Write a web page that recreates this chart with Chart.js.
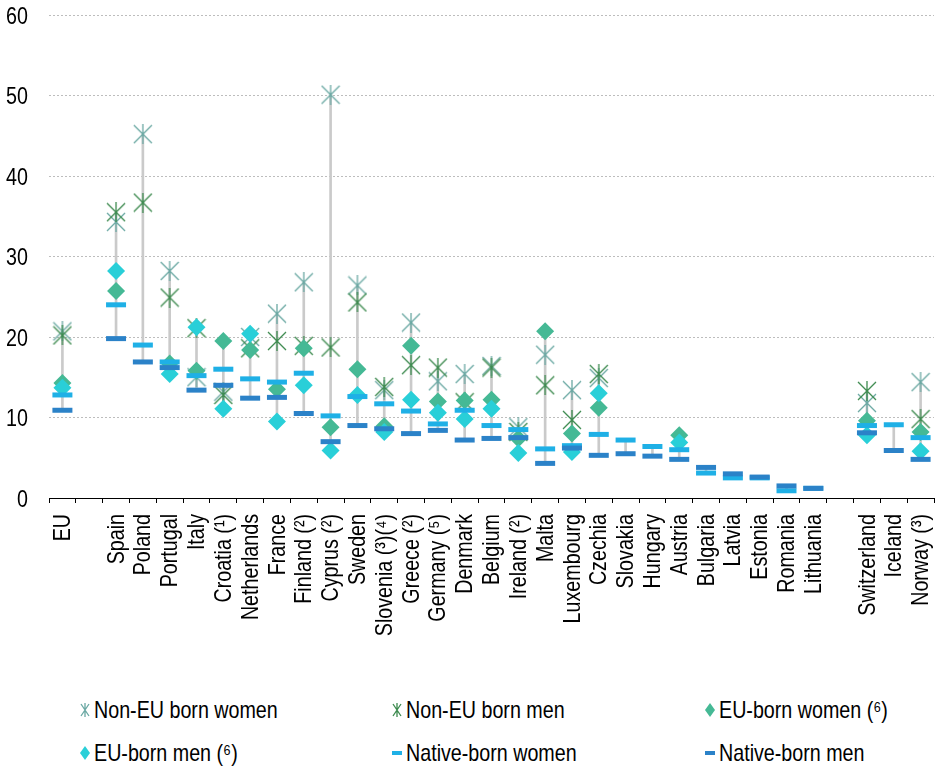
<!DOCTYPE html>
<html>
<head>
<meta charset="utf-8">
<script src="https://cdn.jsdelivr.net/npm/chart.js@4.4.1/dist/chart.umd.min.js"></script>
<style>
  body { margin: 0; background: #fff; }
  #wrap { position: relative; width: 949px; height: 768px; font-family: "Liberation Sans", Arial, sans-serif; }
  #grafica { position: absolute; left: 0; top: 0; }
  .leyenda { position: absolute; display: flex; align-items: center; font-size: 24px; line-height: 28px; color: #000; white-space: nowrap; }
  .leyenda canvas { margin-right: 2px; }
  .leyenda span { display: inline-block; transform: scaleX(0.82); transform-origin: left center; }
</style>
</head>
<body>
<div id="wrap">
  <canvas id="grafica" width="949" height="640"></canvas>
</div>
<script>
// paises (huecos vacios separan EU y los no miembros)
const paises = ['EU', '', 'Spain', 'Poland', 'Portugal', 'Italy', 'Croatia (¹)', 'Netherlands', 'France',
  'Finland (²)', 'Cyprus (²)', 'Sweden', 'Slovenia (³)(⁴)', 'Greece (²)', 'Germany (⁵)', 'Denmark', 'Belgium',
  'Ireland (²)', 'Malta', 'Luxembourg', 'Czechia', 'Slovakia', 'Hungary', 'Austria', 'Bulgaria', 'Latvia',
  'Estonia', 'Romania', 'Lithuania', '', 'Switzerland', 'Iceland', 'Norway (³)'];

const noUeMujeres = [20.7, null, 34.3, 45.2, 28.2, 15.0, 13.2, 20.0, 22.9, 26.8, 50.1, 26.4, 13.4, 21.8, 14.5, 15.4, 16.4,
  8.8, 17.8, 13.4, 14.9, null, null, null, null, null, null, null, null, null, 11.8, null, 14.4];
const noUeHombres = [20.2, null, 35.5, 36.7, 24.9, 21.1, 12.8, 18.6, 19.5, 18.9, 18.7, 24.3, 13.8, 16.5, 16.2, 11.9, 16.2,
  8.2, 14.0, 9.7, 15.4, null, null, null, null, null, null, null, null, null, 13.3, null, 9.8];
const ueMujeres = [14.3, null, 25.7, null, 16.7, 15.8, 19.5, 18.4, 13.5, 18.6, 8.8, 16.0, 8.9, 18.9, 12.0, 12.1, 12.2,
  7.4, 20.7, 8.0, 11.2, null, null, 7.8, null, null, null, null, null, null, 9.6, null, 8.2];
const ueHombres = [13.7, null, 28.2, null, 15.4, 21.2, 11.1, 20.4, 9.5, 14.0, 5.9, 12.8, 8.2, 12.2, 10.6, 9.8, 11.1,
  5.6, null, 5.7, 13.0, null, null, 6.9, null, null, null, null, null, null, 7.8, null, 5.8];
const nativasMujeres = [12.8, null, 24.0, 19.0, 16.9, 15.2, 16.0, 14.8, 14.4, 15.5, 10.2, 12.6, 11.7, 10.8, 9.2, 10.9, 9.0,
  8.5, 6.1, 6.5, 7.9, 7.2, 6.4, 6.0, 3.1, 2.5, 2.5, 0.9, 1.2, null, 9.0, 9.1, 7.5];
const nativosHombres = [10.9, null, 19.8, 16.9, 16.2, 13.4, 14.0, 12.4, 12.5, 10.5, 7.0, 9.0, 8.6, 8.0, 8.4, 7.2, 7.4,
  7.5, 4.3, 6.2, 5.3, 5.5, 5.2, 4.8, 3.8, 3.0, 2.6, 1.5, 1.2, null, 8.1, 5.9, 4.8];

const nombres = ['Non-EU born women', 'Non-EU born men', 'EU-born women (⁶)', 'EU-born men (⁶)', 'Native-born women', 'Native-born men'];
const colores = ['#6aa8a3', '#3c8a4e', '#45b995', '#29cfd8', '#1fb0e6', '#2b82c8'];
const series = [noUeMujeres, noUeHombres, ueMujeres, ueHombres, nativasMujeres, nativosHombres];

// linea gris de min a max en cada pais
const rangos = paises.map((p, i) => {
  const vals = series.map(s => s[i]).filter(v => v !== null);
  if (vals.length < 2) return null;
  return [Math.min(...vals), Math.max(...vals)];
});

// asterisco tipo excel: X con linea vertical
function asterisco(color, w, h) {
  const c = document.createElement('canvas');
  c.width = w; c.height = h;
  const ctx = c.getContext('2d');
  ctx.strokeStyle = color;
  ctx.lineWidth = 1.3;
  ctx.beginPath();
  ctx.moveTo(1, 1); ctx.lineTo(w - 1, h - 1);
  ctx.moveTo(w - 1, 1); ctx.lineTo(1, h - 1);
  ctx.moveTo(w / 2, 0); ctx.lineTo(w / 2, h);
  ctx.stroke();
  return c;
}

const puntos = (i, extra) => Object.assign({
  type: 'line',
  label: nombres[i],
  data: series[i],
  showLine: false,
  pointBackgroundColor: colores[i],
  pointBorderColor: colores[i],
  order: 6 - i
}, extra);

// textos de los ejes en letra estrecha (no hay Arial Narrow, se comprime la Liberation Sans)
const ESTRECHO = 0.82;
const etiquetasEjes = {
  id: 'etiquetasEjes',
  afterDraw(chart) {
    const ctx = chart.ctx;
    const x = chart.scales.x, y = chart.scales.y;
    ctx.save();
    ctx.fillStyle = '#000';
    ctx.font = '24px "Liberation Sans", Arial, sans-serif';
    ctx.textAlign = 'right';
    ctx.textBaseline = 'middle';
    y.ticks.forEach((t, i) => {
      ctx.save();
      ctx.translate(28, y.getPixelForTick(i) + 2);
      ctx.scale(ESTRECHO, 1);
      ctx.fillText(t.label, 0, 0);
      ctx.restore();
    });
    x.ticks.forEach((t, i) => {
      ctx.save();
      ctx.translate(x.getPixelForTick(i) + 1, x.top + 16);
      ctx.rotate(-Math.PI / 2);
      ctx.scale(ESTRECHO, 1);
      ctx.fillText(t.label, 0, 0);
      ctx.restore();
    });
    ctx.restore();
  }
};

new Chart(document.getElementById('grafica'), {
  type: 'bar',
  data: {
    labels: paises,
    datasets: [
      puntos(0, { pointStyle: asterisco(colores[0], 20, 20) }),
      puntos(1, { pointStyle: asterisco(colores[1], 20, 20) }),
      puntos(2, { pointStyle: 'rectRot', pointRadius: 9, pointBorderWidth: 0 }),
      puntos(3, { pointStyle: 'rectRot', pointRadius: 9, pointBorderWidth: 0 }),
      puntos(4, { pointStyle: 'line', pointRadius: 10, pointBorderWidth: 5 }),
      puntos(5, { pointStyle: 'line', pointRadius: 10, pointBorderWidth: 5 }),
      {
        type: 'bar',
        data: rangos,
        backgroundColor: '#cacaca',
        barThickness: 2,
        order: 10
      }
    ]
  },
  options: {
    responsive: false,
    devicePixelRatio: 1,
    animation: false,
    layout: { padding: { top: 15, right: 2, left: 0, bottom: 0 } },
    plugins: { legend: { display: false }, tooltip: { enabled: false } },
    scales: {
      x: {
        offset: true,
        grid: { offset: true, drawOnChartArea: false, drawTicks: true, tickLength: 5, color: '#000' },
        border: { display: true, color: '#000', width: 1 },
        ticks: { autoSkip: false, display: false },
        afterFit: s => { s.height = 142; s.paddingLeft = 0; s.paddingRight = 0; }
      },
      y: {
        min: 0, max: 60,
        grid: { color: '#bdbdbd', drawTicks: false, lineWidth: 1 },
        border: { display: false, dash: [2, 2] },
        ticks: { stepSize: 10, display: false },
        afterFit: s => { s.width = 49; s.paddingTop = 0; s.paddingBottom = 0; }
      }
    }
  },
  plugins: [etiquetasEjes]
});

// leyenda en tres columnas
const wrap = document.getElementById('wrap');
const posLeyenda = [[78, 710], [390, 710], [703, 710], [78, 753], [390, 753], [703, 753]];
nombres.forEach((n, i) => {
  const item = document.createElement('div');
  item.className = 'leyenda';
  item.style.left = posLeyenda[i][0] + 'px';
  item.style.top = (posLeyenda[i][1] - 14) + 'px';
  const m = document.createElement('canvas');
  m.width = 14; m.height = 18;
  const ctx = m.getContext('2d');
  if (i < 2) {
    ctx.drawImage(asterisco(colores[i], 10, 14), 2, 2);
  } else if (i < 4) {
    ctx.fillStyle = colores[i];
    ctx.beginPath();
    ctx.moveTo(7, 2); ctx.lineTo(12, 9); ctx.lineTo(7, 16); ctx.lineTo(2, 9);
    ctx.closePath();
    ctx.fill();
  } else {
    ctx.fillStyle = colores[i];
    ctx.fillRect(2, 7, 10, 4);
  }
  const t = document.createElement('span');
  t.textContent = n;
  item.appendChild(m);
  item.appendChild(t);
  wrap.appendChild(item);
});
</script>
</body>
</html>
